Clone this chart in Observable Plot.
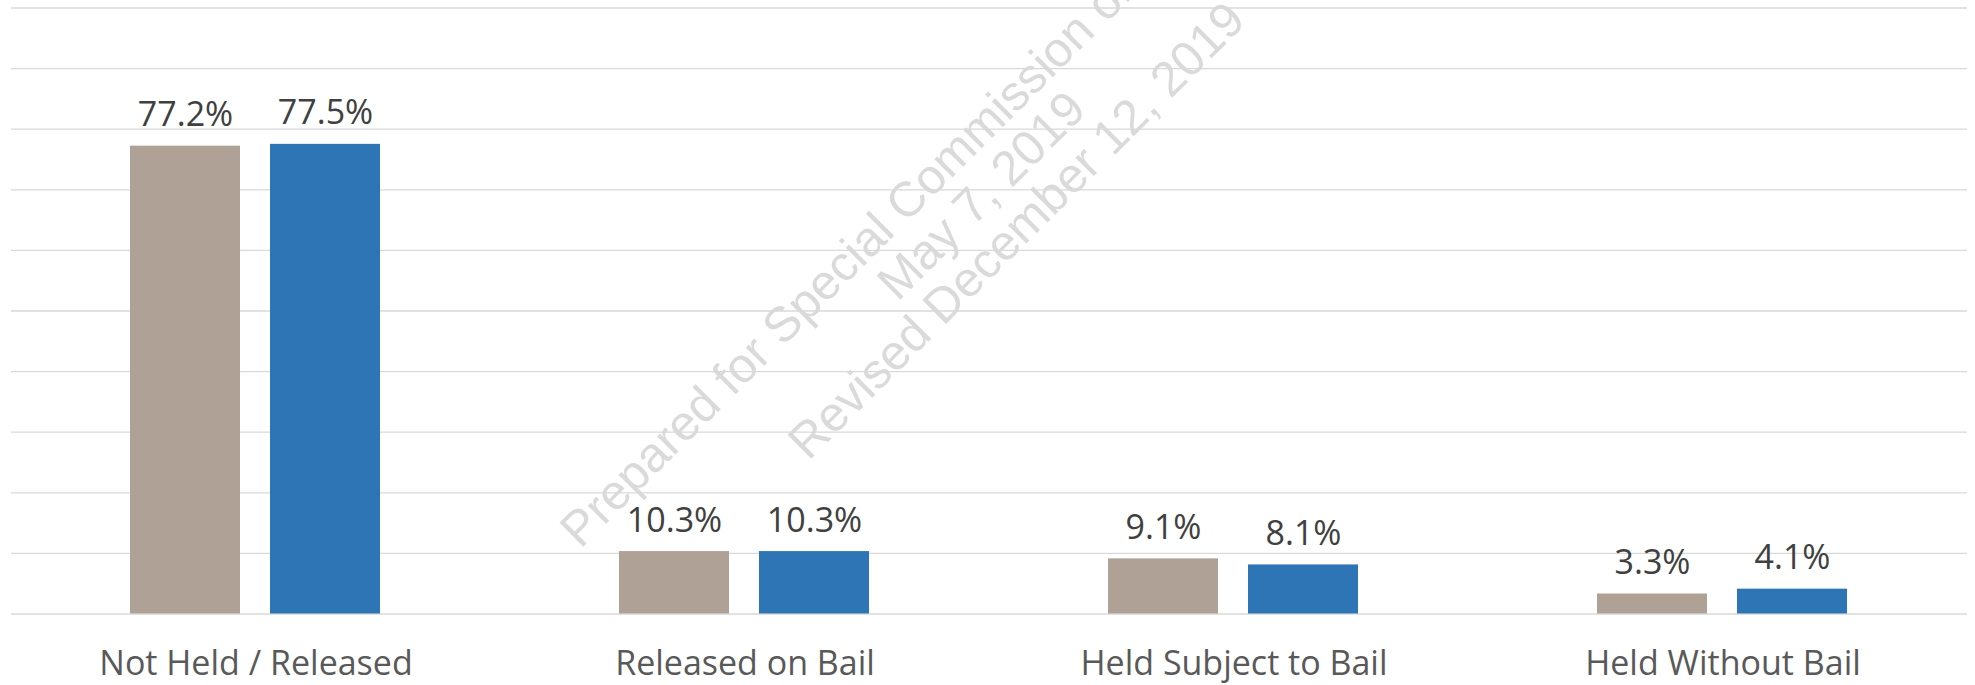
<!DOCTYPE html>
<html>
<head>
<meta charset="utf-8">
<script src="https://cdn.jsdelivr.net/npm/d3@7"></script>
<script src="https://cdn.jsdelivr.net/npm/@observablehq/plot@0.6"></script>
<style>
  html, body { margin: 0; padding: 0; background: #ffffff; }
  #chart svg { display: block; }
</style>
</head>
<body>
<div id="chart"></div>
<script>
// ---- data ----
const categories = ["Not Held / Released", "Released on Bail", "Held Subject to Bail", "Held Without Bail"];
const seriesNames = ["Series 1", "Series 2"];
const series1Values = [77.2, 10.3, 9.1, 3.3];
const series2Values = [77.5, 10.3, 8.1, 4.1];
const gridValues = [0, 10, 20, 30, 40, 50, 60, 70, 80, 90, 100];
const seriesColors = ["#b0a197", "#2e75b6"];
const watermarkLines = ["Prepared for Special Commission on Bail Reform", "May 7, 2019", "Revised December 12, 2019"];

const rows = categories.flatMap((c, i) => [
  {category: c, series: seriesNames[0], value: series1Values[i]},
  {category: c, series: seriesNames[1], value: series2Values[i]}
]);

const chart = Plot.plot({
  width: 1975,
  height: 685,
  marginTop: 7.5,
  marginBottom: 71.5,
  marginLeft: 11,
  marginRight: 8,
  style: {
    fontFamily: "'Open Sans', 'Noto Sans', sans-serif",
    fontSize: "34px",
    color: "#595959",
    background: "#ffffff",
    overflow: "hidden"
  },
  fx: {domain: categories, padding: 0, label: null, axis: "bottom", tickSize: 0, tickPadding: 37},
  x: {domain: seriesNames, axis: null, paddingInner: 0.214, paddingOuter: 0.853},
  y: {domain: [0, 100], axis: null},
  color: {domain: seriesNames, range: seriesColors},
  marks: [
    Plot.ruleY(gridValues, {stroke: "#d9d9d9", strokeWidth: 1.3}),
    Plot.barY(rows, {fx: "category", x: "series", y: "value", fill: "series"}),
    Plot.text(rows, {
      fx: "category", x: "series", y: "value",
      text: d => d.value.toFixed(1) + "%",
      lineAnchor: "bottom", dy: -20,
      fill: "#404040", fontSize: 34
    })
  ]
});

document.getElementById("chart").appendChild(chart);

// watermark annotation (behind the bars)
const svg = d3.select(chart);
const wm = svg.insert("text", ":first-child")
  .attr("transform", "translate(993,207) rotate(-45)")
  .attr("text-anchor", "middle")
  .attr("fill", "#dadada")
  .style("font-family", "'Liberation Sans', Arial, sans-serif")
  .style("font-size", "49px");
watermarkLines.forEach((t, i) => {
  wm.append("tspan").attr("x", 0).attr("y", (i - 1) * 49.5).text(t);
});
</script>
</body>
</html>
